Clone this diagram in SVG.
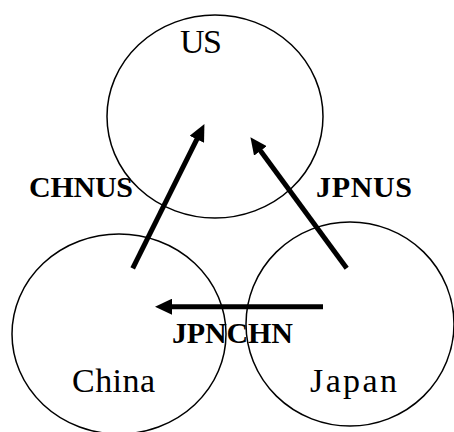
<svg xmlns="http://www.w3.org/2000/svg" width="454" height="432" viewBox="0 0 454 432">
<style>
.c{fill:none;stroke:#000;stroke-width:1.5}
.a{stroke:#000;stroke-width:5;fill:none;marker-end:url(#ah)}
.n{font-family:"Liberation Serif","Times New Roman",serif;font-size:34px;fill:#000}
.l{font-family:"Liberation Serif","Times New Roman",serif;font-size:30px;font-weight:bold;fill:#000}
</style>
<defs>
<marker id="ah" markerUnits="userSpaceOnUse" markerWidth="18" markerHeight="16" refX="1" refY="8" orient="auto" viewBox="0 0 18 16">
<path d="M0,0 L17,8 L0,16 z" fill="#000"/>
</marker>
</defs>
<rect width="454" height="432" fill="#fff"/>
<g id="US"><ellipse class="c" cx="215" cy="116.5" rx="108" ry="101.5"/><text class="n" x="180" y="53" textLength="42">US</text></g>
<g id="China"><ellipse class="c" cx="119" cy="334" rx="107" ry="100"/><text class="n" x="72" y="392" textLength="83">China</text></g>
<g id="Japan"><ellipse class="c" cx="350" cy="324" rx="104" ry="102"/><text class="n" x="310" y="392" textLength="87">Japan</text></g>
<g id="connectors">
<line class="a" x1="132.7" y1="268.3" x2="197.3" y2="138.4"/>
<line class="a" x1="346.7" y1="268.3" x2="259.9" y2="150.1"/>
<line class="a" x1="323" y1="306.7" x2="171" y2="306.7"/>
<text class="l" x="29" y="197" textLength="104">CHNUS</text>
<text class="l" x="316" y="197" textLength="96">JPNUS</text>
<text class="l" x="172" y="343" textLength="121">JPNCHN</text>
</g>
</svg>
